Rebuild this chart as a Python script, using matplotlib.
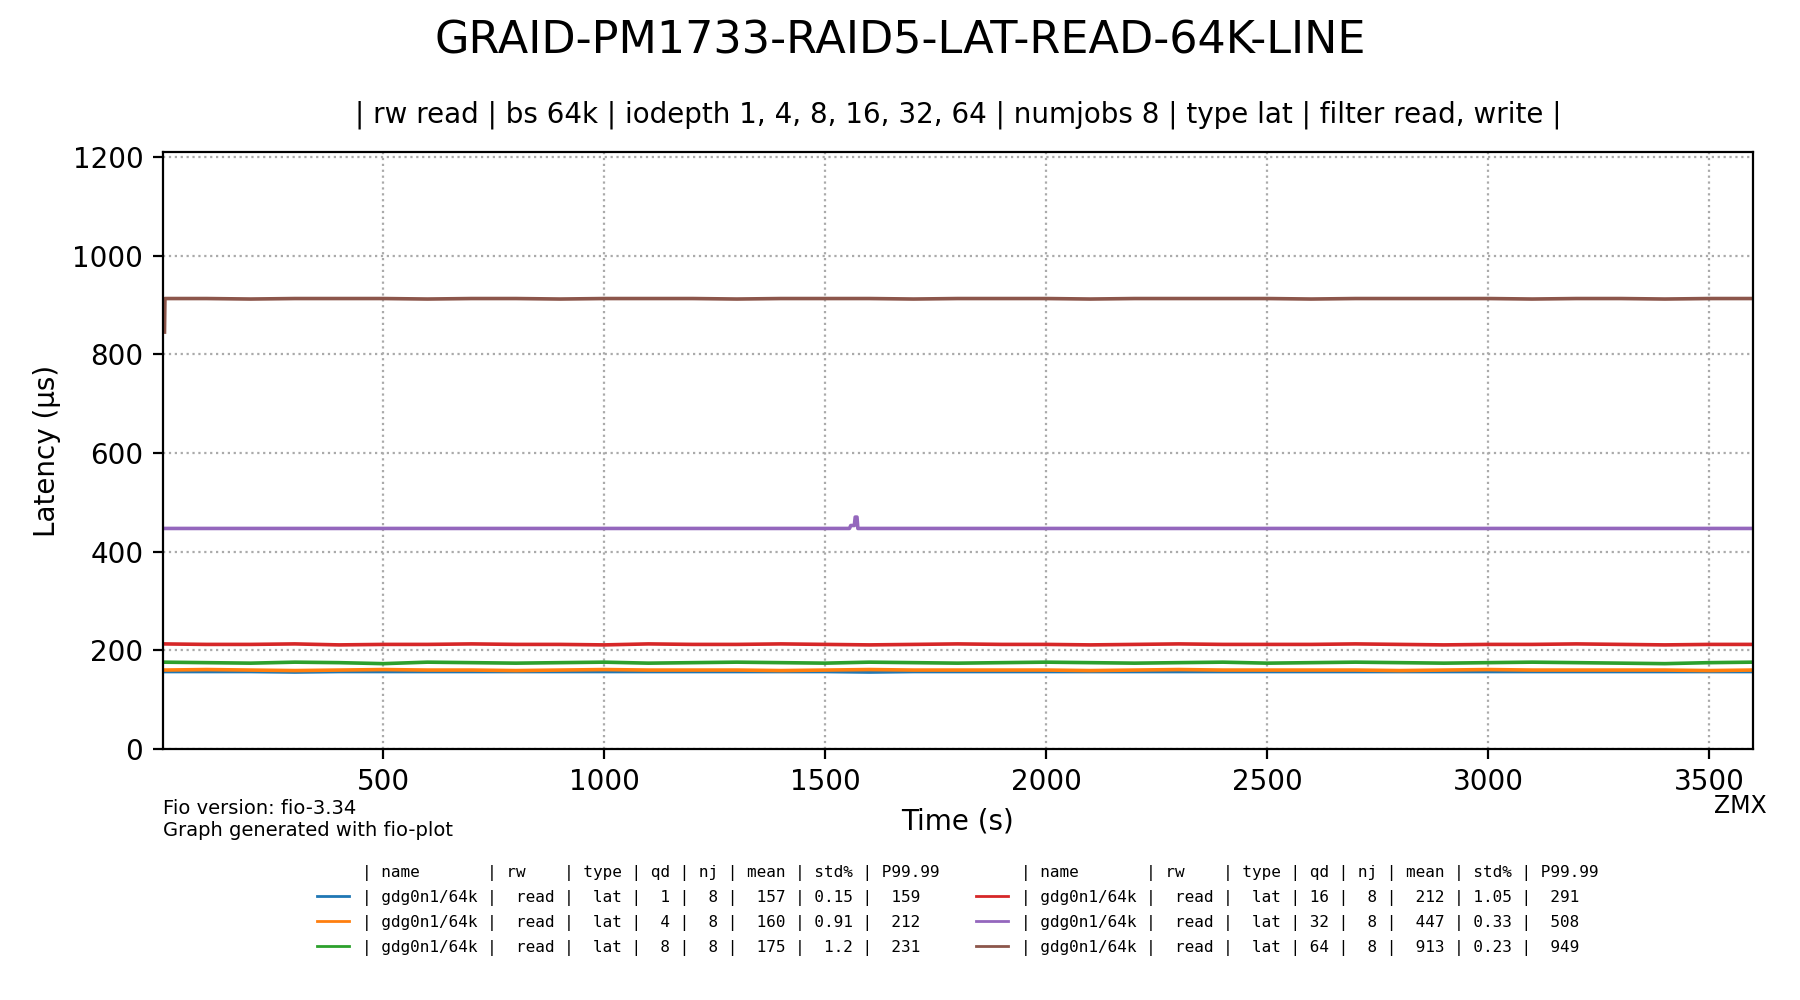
import matplotlib
matplotlib.use("Agg")
import matplotlib.pyplot as plt
from matplotlib.lines import Line2D

# sample times (s) and latency values (us)
time = [1, 100, 200, 300, 400, 500, 600, 700, 800, 900, 1000, 1100, 1200,
        1300, 1400, 1500, 1600, 1700, 1800, 1900, 2000, 2100, 2200, 2300,
        2400, 2500, 2600, 2700, 2800, 2900, 3000, 3100, 3200, 3300, 3400,
        3500, 3600]

lat_qd1 = [157, 157, 157, 156, 157, 157, 157, 157, 157, 157, 157, 157, 157,
           157, 157, 157, 156, 157, 157, 157, 157, 157, 157, 157, 157, 157,
           157, 157, 157, 157, 157, 157, 157, 157, 157, 157, 157]
lat_qd4 = [160, 161, 160, 159, 160, 161, 160, 160, 159, 160, 161, 160, 160,
           160, 159, 160, 161, 160, 160, 160, 160, 159, 160, 161, 160, 160,
           160, 160, 159, 160, 161, 160, 160, 160, 160, 159, 160]
lat_qd8 = [176, 175, 174, 176, 175, 173, 176, 175, 174, 175, 176, 174, 175,
           176, 175, 174, 176, 175, 174, 175, 176, 175, 174, 175, 176, 174,
           175, 176, 175, 174, 175, 176, 175, 174, 173, 175, 176]
lat_qd16 = [213, 212, 212, 213, 211, 212, 212, 213, 212, 212, 211, 213, 212,
            212, 213, 212, 211, 212, 213, 212, 212, 211, 212, 213, 212, 212,
            212, 213, 212, 211, 212, 212, 213, 212, 211, 212, 212]

time_qd32 = [1, 100, 200, 300, 400, 500, 600, 700, 800, 900, 1000, 1100,
             1200, 1300, 1400, 1500, 1555, 1558, 1566, 1568, 1572, 1574,
             1600, 1700, 1800, 1900, 2000, 2100, 2200, 2300, 2400, 2500,
             2600, 2700, 2800, 2900, 3000, 3100, 3200, 3300, 3400, 3500, 3600]
lat_qd32 = [447, 447, 447, 447, 447, 447, 447, 447, 447, 447, 447, 447,
            447, 447, 447, 447, 447, 453, 453, 470, 470, 447,
            447, 447, 447, 447, 447, 447, 447, 447, 447, 447,
            447, 447, 447, 447, 447, 447, 447, 447, 447, 447, 447]

time_qd64 = [5, 6, 100, 200, 300, 400, 500, 600, 700, 800, 900, 1000, 1100,
             1200, 1300, 1400, 1500, 1600, 1700, 1800, 1900, 2000, 2100,
             2200, 2300, 2400, 2500, 2600, 2700, 2800, 2900, 3000, 3100,
             3200, 3300, 3400, 3500, 3600]
lat_qd64 = [845, 913, 913, 912, 913, 913, 913, 912, 913, 913, 912, 913, 913,
            913, 912, 913, 913, 913, 912, 913, 913, 913, 912, 913, 913, 913,
            913, 912, 913, 913, 913, 913, 912, 913, 913, 912, 913, 913]

series_time = [time, time, time, time, time_qd32, time_qd64]
series_lat = [lat_qd1, lat_qd4, lat_qd8, lat_qd16, lat_qd32, lat_qd64]
colors = ["#1f77b4", "#ff7f0e", "#2ca02c", "#d62728", "#9467bd", "#8c564b"]

# legend table columns
qd = [1, 4, 8, 16, 32, 64]
mean = [157, 160, 175, 212, 447, 913]
std = ["0.15", "0.91", "1.2", "1.05", "0.33", "0.23"]
p9999 = [159, 212, 231, 291, 508, 949]

header = "| name       | rw    | type | qd | nj | mean | std% | P99.99"

fig = plt.figure(figsize=(9, 5), dpi=200)
ax = fig.add_axes([0.0904, 0.251, 0.8836, 0.597])

for t, v, c in zip(series_time, series_lat, colors):
    ax.plot(t, v, color=c, linewidth=1.3)

ax.set_xlim(1, 3600)
ax.set_ylim(0, 1210)
ax.set_xticks([500, 1000, 1500, 2000, 2500, 3000, 3500])
ax.grid(True, linestyle=":", color="#aaaaaa", linewidth=0.8)
ax.tick_params(labelsize=10)
ax.set_xlabel("Time (s)", fontsize=10)
ax.set_ylabel("Latency (\u00b5s)", fontsize=10)

fig.suptitle("GRAID-PM1733-RAID5-LAT-READ-64K-LINE", fontsize=16, y=0.98)
ax.set_title("| rw read | bs 64k | iodepth 1, 4, 8, 16, 32, 64 | numjobs 8 "
             "| type lat | filter read, write |", fontsize=10, pad=10.5)

fig.text(0.0904, 0.16, "Fio version: fio-3.34\nGraph generated with fio-plot",
         fontsize=7, va="bottom", ha="left")
fig.text(0.9815, 0.194, "ZMX", fontsize=8.5, va="center", ha="right")

# legend: header row + three series per column
blank = Line2D([], [], linestyle="none")
handles = []
labels = []
for col in range(2):
    handles.append(blank)
    labels.append(header)
    for i in range(col * 3, col * 3 + 3):
        handles.append(Line2D([], [], color=colors[i], linewidth=1))
        labels.append("| gdg0n1/64k | %5s | %4s | %2d | %2d | %4d | %4s | %4d"
                      % ("read", "lat", qd[i], 8, mean[i], std[i], p9999[i]))

ax.legend(handles, labels, ncol=2, loc="upper center",
          bbox_to_anchor=(0.5, -0.17), frameon=False,
          prop={"family": "DejaVu Sans Mono", "size": 5.75},
          handlelength=2, columnspacing=2.3, labelspacing=0.56)

fig.savefig("out.png")
